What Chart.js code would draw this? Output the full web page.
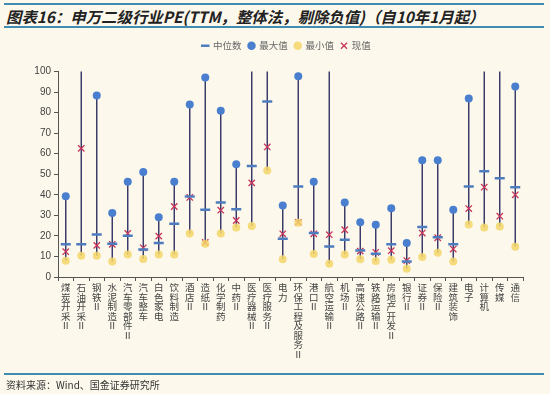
<!DOCTYPE html>
<html>
<head>
<meta charset="utf-8">
<script src="https://cdn.jsdelivr.net/npm/chart.js@4"></script>
<style>
  html, body { margin: 0; padding: 0; background: #fcf8ec; }
  #page { position: relative; width: 550px; height: 394px; overflow: hidden; }
  .rule { position: absolute; left: 4px; right: 6px; height: 2px; background: #3f8db1; }
  #title { position: absolute; left: 6px; top: 5px; font: italic bold 15.4px "Noto Sans CJK SC", sans-serif; color: #222; white-space: nowrap; }
  #source { position: absolute; left: 6px; top: 377px; font: 10px "Noto Sans CJK SC", sans-serif; color: #333; }
  #wrap { position: absolute; left: 0; top: 0; width: 550px; height: 394px; }
</style>
</head>
<body>
<div id="page">
  <div class="rule" style="top:3px"></div>
  <div id="title">图表16：申万二级行业PE(TTM，整体法，剔除负值)（自10年1月起）</div>
  <div class="rule" style="top:26px"></div>
  <div id="wrap"><canvas id="peChart" width="550" height="394"></canvas></div>
  <div class="rule" style="top:373px"></div>
  <div id="source">资料来源：Wind、国金证券研究所</div>
</div>
<script>
const industries = ["煤炭开采Ⅱ", "石油开采Ⅱ", "钢铁Ⅱ", "水泥制造Ⅱ", "汽车零部件Ⅱ", "汽车整车", "白色家电", "饮料制造",
    "酒店Ⅱ", "造纸Ⅱ", "化学制药", "中药Ⅱ", "医疗器械Ⅱ", "医疗服务Ⅱ", "电力", "环保工程及服务Ⅱ", "港口Ⅱ",
    "航空运输Ⅱ", "机场Ⅱ", "高速公路Ⅱ", "铁路运输Ⅱ", "房地产开发Ⅱ", "银行Ⅱ", "证券Ⅱ", "保险Ⅱ", "建筑装饰",
    "电子", "计算机", "传媒", "通信"]

const medianPE = [15.9, 15.9, 20.7, 16.2, 20.1, 13.4, 16.5, 25.9, 39.2, 32.7, 36.2, 33.0, 54.0, 85.4, 18.6,
    44.0, 21.4, 14.9, 18.1, 12.9, 11.3, 15.9, 7.5, 24.3, 19.4, 15.9, 44.0, 51.5, 48.1, 43.7]
const maxPE = [39.3, 150, 88.3, 31.2, 46.4, 51.1, 29.1, 46.4, 84.0, 97.1, 80.9, 54.9, 130, 140, 34.8,
    97.7, 46.4, 150, 36.2, 26.7, 25.4, 33.5, 16.5, 56.8, 56.8, 32.7, 86.9, 130, 120, 92.7]
const minPE = [7.9, 10.4, 10.4, 7.6, 11.0, 8.7, 11.0, 11.0, 21.2, 16.2, 21.2, 24.1, 24.8, 51.8, 8.6,
    26.4, 11.2, 6.5, 11.0, 8.6, 7.8, 8.4, 4.0, 9.7, 11.8, 7.6, 25.6, 24.1, 24.6, 14.7]
const currentPE = [12.3, 62.6, 15.4, 15.9, 21.2, 14.2, 19.9, 34.3, 38.7, 16.8, 32.5, 27.5, 45.8, 63.3, 21.0,
    26.6, 21.0, 20.6, 23.0, 12.6, 12.0, 12.8, 8.0, 21.4, 19.1, 13.6, 33.3, 43.7, 29.6, 40.0]

const yTicks = [0, 10, 20, 30, 40, 50, 60, 70, 80, 90, 100]

// stack each character so labels read top to bottom
const xLabels = industries.map(name => Array.from(name))

// legend sits a bit right of centre with a gap below it, like the original
const legendTweak = {
    id: 'legendTweak',
    beforeInit(chart) {
        const fit = chart.legend.fit
        chart.legend.fit = function () {
            fit.call(this)
            this.height += 11
        }
    },
    afterLayout(chart) {
        chart.legend.left += 25
        chart.legend.right += 25
    }
}

const ctx = document.getElementById('peChart').getContext('2d')

new Chart(ctx, {
    type: 'bar',
    data: {
        labels: xLabels,
        datasets: [{
            type: 'line',
            label: '中位数',
            data: medianPE,
            showLine: false,
            pointStyle: 'line',
            pointRadius: 5,
            pointBorderWidth: 2.5,
            borderColor: '#4d7dbf',
            backgroundColor: '#4d7dbf',
            order: 1,
        }, {
            type: 'line',
            label: '最大值',
            data: maxPE,
            showLine: false,
            pointStyle: 'circle',
            pointRadius: 4,
            pointBorderWidth: 0,
            borderColor: '#4a7fd0',
            backgroundColor: '#4a7fd0',
            order: 3,
        }, {
            type: 'line',
            label: '最小值',
            data: minPE,
            showLine: false,
            pointStyle: 'circle',
            pointRadius: 4,
            pointBorderWidth: 0,
            borderColor: '#f4d66a',
            backgroundColor: 'rgba(244, 214, 106, 0.85)',
            order: 0,
        }, {
            type: 'line',
            label: '现值',
            data: currentPE,
            showLine: false,
            pointStyle: 'crossRot',
            pointRadius: 4.5,
            pointBorderWidth: 1.3,
            borderColor: '#c8345a',
            backgroundColor: '#c8345a',
            order: 2,
        }, {
            label: '',
            data: minPE.map((lo, i) => [lo, maxPE[i]]),
            backgroundColor: '#323264',
            borderWidth: 0,
            inflateAmount: 0,
            barThickness: 1.4,
            order: 5,
        }]
    },
    options: {
        responsive: false,
        animation: false,
        events: [],
        layout: {
            padding: {top: 34, left: 0, right: 27, bottom: 25}
        },
        plugins: {
            legend: {
                display: true,
                labels: {
                    usePointStyle: true,
                    boxWidth: 6,
                    boxHeight: 6,
                    padding: 7,
                    color: '#666',
                    font: {family: '"Noto Sans CJK SC", sans-serif', size: 9.5},
                    filter: item => item.text !== '',
                    sort: (a, b) => a.datasetIndex - b.datasetIndex,
                }
            },
            tooltip: {enabled: false},
        },
        scales: {
            x: {
                grid: {
                    display: true,
                    drawOnChartArea: false,
                    offset: true,
                    tickLength: 4,
                    color: '#555',
                },
                border: {color: '#555', width: 1},
                ticks: {
                    autoSkip: false,
                    maxRotation: 0,
                    minRotation: 0,
                    padding: 2,
                    color: '#444',
                    font: {family: '"Noto Sans CJK SC", sans-serif', size: 9.5, lineHeight: 1.0},
                },
                afterFit(scale) { scale.height = 92 },
            },
            y: {
                min: 0,
                max: 100,
                grid: {
                    display: true,
                    drawOnChartArea: false,
                    tickLength: 4,
                    color: '#555',
                },
                border: {color: '#555', width: 1},
                afterBuildTicks(scale) { scale.ticks = yTicks.map(v => ({value: v})) },
                ticks: {
                    padding: 3,
                    color: '#444',
                    font: {family: '"Liberation Sans", Arial, sans-serif', size: 10},
                },
                afterFit(scale) { scale.width = 58 },
            }
        }
    },
    plugins: [legendTweak]
})
</script>
</body>
</html>
